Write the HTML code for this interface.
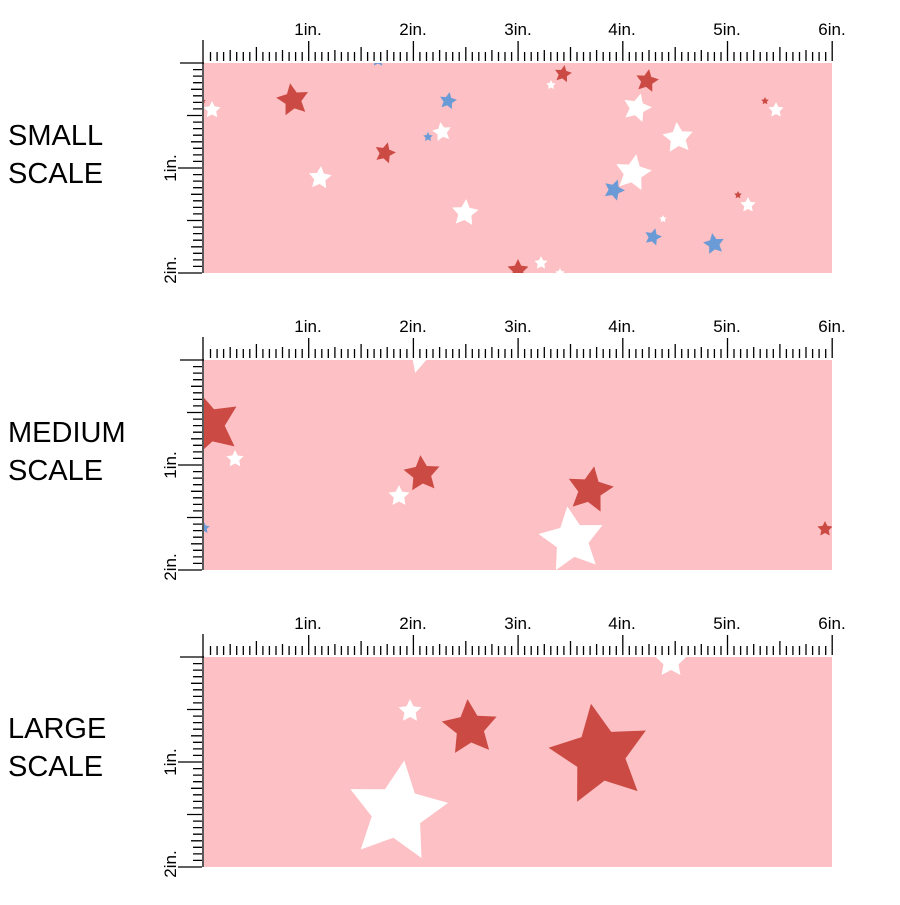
<!DOCTYPE html>
<html><head><style>
body{margin:0;background:#fff;width:900px;height:900px;overflow:hidden;font-family:"Liberation Sans",sans-serif}
</style></head><body>
<svg width="900" height="900" viewBox="0 0 900 900" xmlns="http://www.w3.org/2000/svg">
<defs>
<path id="s" d="M0,-1 L0.29,-0.4 0.95,-0.31 0.47,0.15 0.59,0.81 0,0.5 -0.59,0.81 -0.47,0.15 -0.95,-0.31 -0.29,-0.4Z"/>
<clipPath id="c1"><rect x="204" y="63" width="628" height="210"/></clipPath>
<clipPath id="c2"><rect x="204" y="360" width="628" height="210"/></clipPath>
<clipPath id="c3"><rect x="204" y="657" width="628" height="210"/></clipPath>
</defs>
<style>.r{fill:#cc4a44}.w{fill:#fff}.b{fill:#6a9bd6}</style>

<g id="P1">
<rect x="204" y="63" width="628" height="210" fill="#fdc0c4"/>
<g clip-path="url(#c1)">
<use href="#s" class="r" transform="translate(293,100) scale(17) rotate(-10)"/>
<use href="#s" class="r" transform="translate(385,153) scale(11) rotate(15)"/>
<use href="#s" class="w" transform="translate(212,110) scale(9)"/>
<use href="#s" class="w" transform="translate(320,178) scale(12) rotate(5)"/>
<use href="#s" class="b" transform="translate(448,101) scale(9) rotate(10)"/>
<use href="#s" class="b" transform="translate(428,137) scale(5)"/>
<use href="#s" class="w" transform="translate(442,132) scale(10) rotate(-10)"/>
<use href="#s" class="w" transform="translate(465,213) scale(14) rotate(5)"/>
<use href="#s" class="r" transform="translate(518,270) scale(11)"/>
<use href="#s" class="w" transform="translate(541,263) scale(7)"/>
<use href="#s" class="w" transform="translate(560,273) scale(5)"/>
<use href="#s" class="r" transform="translate(563,74) scale(9) rotate(10)"/>
<use href="#s" class="w" transform="translate(551,85) scale(5)"/>
<use href="#s" class="r" transform="translate(647,81) scale(12) rotate(10)"/>
<use href="#s" class="w" transform="translate(637,108) scale(15) rotate(15)"/>
<use href="#s" class="w" transform="translate(678,138) scale(16) rotate(-5)"/>
<use href="#s" class="w" transform="translate(633,173) scale(19) rotate(10)"/>
<use href="#s" class="b" transform="translate(614,190) scale(11) rotate(20)"/>
<use href="#s" class="r" transform="translate(738,195) scale(4)"/>
<use href="#s" class="w" transform="translate(748,205) scale(8)"/>
<use href="#s" class="w" transform="translate(663,219) scale(4)"/>
<use href="#s" class="b" transform="translate(653,237) scale(9) rotate(15)"/>
<use href="#s" class="b" transform="translate(714,244) scale(11) rotate(-10)"/>
<use href="#s" class="r" transform="translate(765,101) scale(4)"/>
<use href="#s" class="w" transform="translate(776,110) scale(8)"/>
<use href="#s" class="b" transform="translate(378,60) scale(7)"/>
<use href="#s" class="r" transform="translate(203,101) scale(3)"/>
</g>
</g>

<g id="P2">
<rect x="204" y="360" width="628" height="210" fill="#fdc0c4"/>
<g clip-path="url(#c2)">
<use href="#s" class="r" transform="translate(208,425) scale(34) rotate(-15)"/>
<use href="#s" class="w" transform="translate(235,459) scale(9)"/>
<use href="#s" class="r" transform="translate(422,474) scale(19) rotate(-5)"/>
<use href="#s" class="w" transform="translate(399,496) scale(11)"/>
<use href="#s" class="r" transform="translate(590,490) scale(24) rotate(10)"/>
<use href="#s" class="w" transform="translate(572,540) scale(34) rotate(-8)"/>
<use href="#s" class="r" transform="translate(825,529) scale(8)"/>
<use href="#s" class="w" transform="translate(424,340) scale(34) rotate(195)"/>
<use href="#s" class="b" transform="translate(204,528) scale(6)"/>
</g>
</g>

<g id="P3">
<rect x="204" y="657" width="628" height="210" fill="#fdc0c4"/>
<g clip-path="url(#c3)">
<use href="#s" class="w" transform="translate(410,711) scale(12)"/>
<use href="#s" class="r" transform="translate(470,728) scale(29) rotate(-5)"/>
<use href="#s" class="r" transform="translate(600,755) scale(52) rotate(-10)"/>
<use href="#s" class="w" transform="translate(397,812) scale(52) rotate(8)"/>
<use href="#s" class="w" transform="translate(671,662) scale(16)"/>
</g>
</g>

<g id="rulers" stroke="#000" stroke-width="1.3" fill="none"></g>
<g font-size="29" fill="#000" font-family="Liberation Sans, sans-serif">
<text x="8" y="145">SMALL</text><text x="8" y="183">SCALE</text>
<text x="8" y="442">MEDIUM</text><text x="8" y="480">SCALE</text>
<text x="8" y="738">LARGE</text><text x="8" y="776">SCALE</text>
</g>
<g font-size="17" fill="#000" font-family="Liberation Sans, sans-serif">
<text x="308" y="35" text-anchor="middle">1in.</text><text x="413" y="35" text-anchor="middle">2in.</text><text x="518" y="35" text-anchor="middle">3in.</text><text x="622" y="35" text-anchor="middle">4in.</text><text x="727" y="35" text-anchor="middle">5in.</text><text x="832" y="35" text-anchor="middle">6in.</text>
<text x="308" y="332" text-anchor="middle">1in.</text><text x="413" y="332" text-anchor="middle">2in.</text><text x="518" y="332" text-anchor="middle">3in.</text><text x="622" y="332" text-anchor="middle">4in.</text><text x="727" y="332" text-anchor="middle">5in.</text><text x="832" y="332" text-anchor="middle">6in.</text>
<text x="308" y="629" text-anchor="middle">1in.</text><text x="413" y="629" text-anchor="middle">2in.</text><text x="518" y="629" text-anchor="middle">3in.</text><text x="622" y="629" text-anchor="middle">4in.</text><text x="727" y="629" text-anchor="middle">5in.</text><text x="832" y="629" text-anchor="middle">6in.</text>
<text transform="translate(176,168) rotate(-90)" text-anchor="middle">1in.</text><text transform="translate(176,270) rotate(-90)" text-anchor="middle">2in.</text>
<text transform="translate(176,465) rotate(-90)" text-anchor="middle">1in.</text><text transform="translate(176,567) rotate(-90)" text-anchor="middle">2in.</text>
<text transform="translate(176,762) rotate(-90)" text-anchor="middle">1in.</text><text transform="translate(176,864) rotate(-90)" text-anchor="middle">2in.</text>
</g>
</svg>
<script>
var g=document.getElementById('rulers'),d='';
[0,297,594].forEach(function(o){
 var top=61+o;
 d+='M180,'+(63+o)+'H204 ';
 d+='M203,'+(40+o)+'V'+(63+o)+' ';
 for(var i=1;i<=96;i++){var x=204+i*104.7/16;var len=(i%16==0)?20:(i%8==0)?14:(i%4==0)?11:9;d+='M'+x.toFixed(1)+','+top+'v'+(-len)+' ';}
 d+='M203,'+(63+o)+'V'+(273+o)+' ';
 for(var j=1;j<=32;j++){var y=63+o+j*105/16;var l=(j%16==0)?24:(j%8==0)?15:(j%4==0)?11:9;d+='M202,'+y.toFixed(1)+'h'+(-l)+' ';}
});
var p=document.createElementNS('http://www.w3.org/2000/svg','path');p.setAttribute('d',d);g.appendChild(p);
</script>
</body></html>
